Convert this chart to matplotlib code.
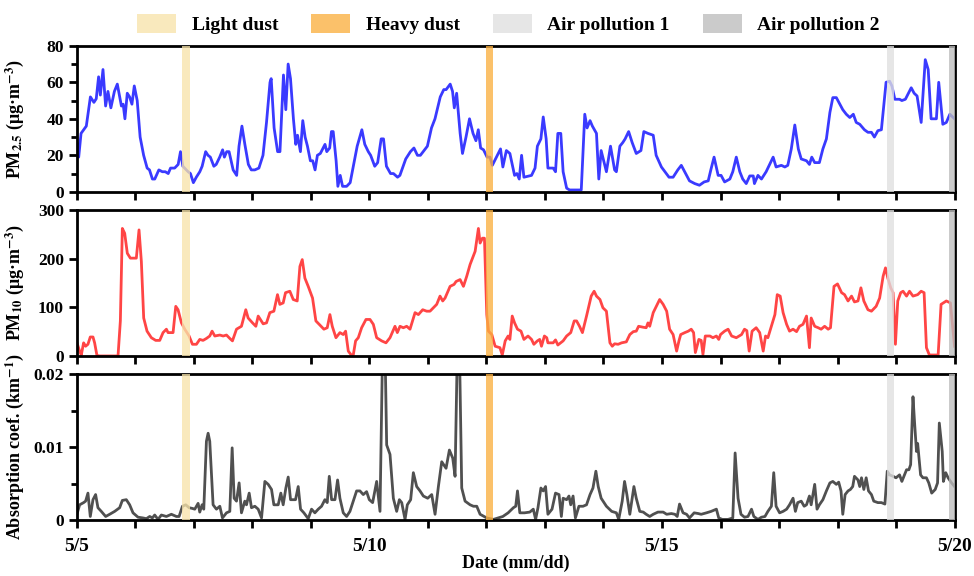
import numpy as np
import matplotlib.pyplot as plt
from matplotlib.patches import Patch

plt.rcParams['font.family'] = ['Liberation Serif', 'DejaVu Serif']
plt.rcParams['font.weight'] = 'bold'
plt.rcParams['mathtext.fontset'] = 'stix'

# time in days since 5/5 00:00
pm25_t = [0.00, 0.03, 0.07, 0.16, 0.23, 0.29, 0.33, 0.37, 0.40, 0.445, 0.49, 0.53, 0.58, 0.64, 0.69, 0.76,
          0.79, 0.82, 0.86, 0.90, 0.94, 0.98, 1.03, 1.08, 1.14, 1.20, 1.24, 1.29, 1.33, 1.40, 1.46, 1.51,
          1.56, 1.60, 1.67, 1.73, 1.77, 1.81, 1.90, 1.94, 1.99, 2.04, 2.10, 2.14, 2.20, 2.24, 2.28, 2.34,
          2.38, 2.44, 2.49, 2.52, 2.56, 2.60, 2.67, 2.73, 2.77, 2.82, 2.87, 2.93, 2.98, 3.04, 3.11, 3.18,
          3.24, 3.30, 3.32, 3.37, 3.43, 3.47, 3.53, 3.57, 3.61, 3.65, 3.70, 3.74, 3.77, 3.82, 3.86, 3.90,
          3.94, 3.99, 4.03, 4.07, 4.11, 4.16, 4.24, 4.27, 4.32, 4.35, 4.38, 4.43, 4.46, 4.50, 4.54, 4.61,
          4.67, 4.73, 4.79, 4.87, 4.92, 4.98, 5.02, 5.09, 5.14, 5.20, 5.24, 5.29, 5.36, 5.41, 5.48, 5.52,
          5.62, 5.70, 5.76, 5.82, 5.87, 5.99, 6.06, 6.12, 6.21, 6.27, 6.31, 6.38, 6.42, 6.45, 6.49, 6.55,
          6.59, 6.65, 6.71, 6.77, 6.82, 6.86, 6.90, 6.95, 7.01, 7.06, 7.10, 7.24, 7.28, 7.34, 7.40, 7.48,
          7.52, 7.56, 7.60, 7.64, 7.77, 7.83, 7.87, 7.93, 7.97, 8.02, 8.05, 8.14, 8.18, 8.22, 8.27, 8.31,
          8.37, 8.42, 8.62, 8.68, 8.72, 8.77, 8.81, 8.88, 8.92, 8.96, 9.05, 9.12, 9.19, 9.22, 9.28, 9.33,
          9.37, 9.43, 9.49, 9.56, 9.64, 9.69, 9.76, 9.85, 9.90, 9.99, 10.05, 10.12, 10.19, 10.27, 10.33, 10.42,
          10.47, 10.56, 10.64, 10.72, 10.79, 10.84, 10.89, 10.96, 11.01, 11.07, 11.16, 11.21, 11.27, 11.33, 11.38, 11.44,
          11.50, 11.56, 11.58, 11.64, 11.70, 11.78, 11.84, 11.90, 11.95, 12.04, 12.10, 12.15, 12.21, 12.27, 12.33, 12.38,
          12.47, 12.52, 12.56, 12.61, 12.69, 12.75, 12.81, 12.87, 12.92, 12.98, 13.04, 13.09, 13.15, 13.21, 13.27, 13.32,
          13.38, 13.46, 13.52, 13.58, 13.63, 13.69, 13.75, 13.79, 13.83, 13.89, 13.93, 13.98, 14.06, 14.10, 14.16, 14.26,
          14.31, 14.36, 14.43, 14.50, 14.55, 14.60, 14.69, 14.73, 14.80, 14.86, 14.92, 15.00]
pm25_v = [28, 19, 32, 36, 52, 49, 51, 63, 53, 67, 47, 55, 46, 55, 59, 47,
          48, 40, 54, 52, 48, 58, 50, 30, 20, 13, 12, 7, 7, 12, 11, 11,
          10, 13, 13, 15, 22, 14, 11, 10, 5, 8, 11, 14, 22, 20, 19, 14,
          15, 19, 23, 19, 22, 22, 12, 9, 25, 36, 26, 15, 12, 12, 13, 20,
          38, 60, 62, 35, 22, 22, 64, 45, 70, 62, 40, 26, 31, 22, 39, 30,
          25, 17, 17, 12, 20, 21, 26, 22, 24, 33, 33, 17, 3, 9, 3, 3,
          5, 15, 25, 34, 26, 22, 20, 14, 16, 29, 29, 14, 10, 10, 8, 9,
          18, 22, 24, 20, 20, 25, 35, 40, 52, 56, 56, 59, 55, 46, 54, 32,
          21, 30, 40, 32, 28, 34, 24, 23, 19, 19, 14.5, 23.5, 13.6, 22.6, 21, 9,
          10, 7, 20, 8, 9, 13, 25, 29, 41, 29, 13, 13, 11, 32, 32, 11,
          2, 1, 1, 42.5, 35, 39, 36, 32, 7, 22.6, 11, 25, 12, 11, 25, 27,
          29, 33, 27, 21, 22.6, 33, 32, 31, 20, 13.6, 11, 8, 8, 12, 14.5, 9,
          6, 4.5, 3.6, 5.4, 6, 12.7, 19, 9, 9, 5.4, 7, 11, 19, 11, 7, 4.5,
          8.7, 8.7, 4.5, 9, 7, 11, 15, 19, 13.6, 14.5, 13.6, 14.5, 23.5, 36.6, 23.5, 18,
          17, 15, 19, 16, 16, 23.5, 29, 43.5, 51.6, 51.6, 48, 45, 42.5, 40.7, 42.5, 38,
          37, 34, 32.6, 32.6, 30, 33.5, 34, 47, 60, 60.6, 58, 50.7, 50.7, 50, 50.7, 57,
          54, 52.5, 38, 72.4, 67, 40, 40, 60, 37, 38, 42.5, 40]

pm10_t = [0.00, 0.046, 0.074, 0.114, 0.148, 0.188, 0.228, 0.274, 0.302, 0.342, 0.388, 0.702, 0.742, 0.776, 0.816, 0.861,
          0.913, 1.015, 1.061, 1.101, 1.141, 1.198, 1.272, 1.346, 1.415, 1.472, 1.529, 1.557, 1.643, 1.689, 1.728, 1.786,
          1.843, 1.917, 1.974, 2.042, 2.099, 2.156, 2.213, 2.270, 2.310, 2.356, 2.442, 2.499, 2.556, 2.613, 2.658, 2.727,
          2.812, 2.886, 2.926, 3.001, 3.058, 3.098, 3.183, 3.240, 3.297, 3.366, 3.428, 3.468, 3.525, 3.565, 3.639, 3.697,
          3.765, 3.811, 3.851, 3.896, 3.953, 4.027, 4.084, 4.141, 4.221, 4.278, 4.324, 4.364, 4.427, 4.495, 4.552, 4.592,
          4.638, 4.695, 4.723, 4.763, 4.809, 4.866, 4.940, 5.009, 5.066, 5.123, 5.208, 5.282, 5.351, 5.436, 5.476, 5.522,
          5.579, 5.636, 5.693, 5.779, 5.836, 5.910, 5.978, 6.035, 6.092, 6.149, 6.206, 6.252, 6.292, 6.378, 6.446, 6.480,
          6.549, 6.606, 6.663, 6.720, 6.806, 6.862, 6.891, 6.931, 6.965, 7.005, 7.034, 7.091, 7.148, 7.23, 7.27, 7.32,
          7.37, 7.40, 7.44, 7.48, 7.53, 7.59, 7.64, 7.71, 7.77, 7.81, 7.87, 7.91, 7.94, 7.99, 8.03, 8.05,
          8.14, 8.18, 8.22, 8.31, 8.37, 8.44, 8.50, 8.54, 8.59, 8.64, 8.71, 8.79, 8.84, 8.88, 8.94, 8.99,
          9.05, 9.11, 9.15, 9.19, 9.25, 9.31, 9.39, 9.45, 9.51, 9.56, 9.60, 9.68, 9.73, 9.76, 9.79, 9.85,
          9.92, 9.96, 10.02, 10.08, 10.13, 10.19, 10.25, 10.29, 10.32, 10.39, 10.45, 10.50, 10.54, 10.57, 10.63, 10.67,
          10.70, 10.74, 10.82, 10.87, 10.93, 10.97, 11.00, 11.07, 11.13, 11.19, 11.27, 11.36, 11.41, 11.45, 11.49, 11.54,
          11.61, 11.67, 11.73, 11.77, 11.81, 11.87, 11.93, 11.97, 12.02, 12.07, 12.13, 12.18, 12.24, 12.30, 12.35, 12.41,
          12.47, 12.52, 12.55, 12.61, 12.67, 12.72, 12.78, 12.84, 12.88, 12.94, 13.00, 13.07, 13.12, 13.18, 13.24, 13.29,
          13.35, 13.40, 13.45, 13.52, 13.58, 13.66, 13.72, 13.78, 13.82, 13.86, 13.91, 13.95, 13.99, 14.03, 14.08, 14.12,
          14.18, 14.23, 14.29, 14.37, 14.43, 14.48, 14.52, 14.57, 14.72, 14.77, 14.86, 14.93, 15.00]
pm10_v = [27, 10, 2, 27, 20, 24, 39, 39, 27, 1, 0, 0, 72, 262, 252, 211,
          201, 201, 259, 194, 78, 51, 37.5, 32, 32, 48, 55, 48, 48, 102, 95, 68,
          55, 41, 24, 24, 34, 32, 36, 41, 51, 41, 43, 41, 43, 36, 31, 55,
          61, 95, 78, 68, 61, 82, 66, 68, 89, 92, 126, 106, 109, 130, 133, 116,
          113, 184, 198, 160, 143, 119, 72, 65, 55, 58, 85, 61, 37.5, 48, 44, 51,
          10, 1, 2, 31, 37.5, 58, 75, 75, 65, 37.5, 31, 27, 37.5, 61, 48, 61,
          58, 61, 55, 89, 85, 95, 92, 92, 99, 106, 123, 113, 119, 143, 147, 153,
          157, 143, 164, 188, 215, 262, 232, 242, 242, 85, 51, 44, 20, 17, 2, 31,
          41, 34, 82, 68, 55, 51, 34, 41, 34, 24, 31, 34, 20, 41, 37.5, 27,
          27, 33, 22.5, 31, 41, 48, 72, 72, 61, 48, 82, 123, 133, 123, 116, 99,
          92, 27, 20, 25, 24, 27, 29, 44, 50, 51, 61, 59, 58, 68, 61, 89,
          106, 116, 106, 92, 55, 44, 10, 31, 44, 48, 51, 55, 48, 7, 34, 32,
          3, 41, 41, 37.5, 41, 34, 44, 51, 55, 41, 37.5, 44, 55, 52, 10, 51,
          58, 48, 10, 41, 37.5, 61, 85, 126, 123, 89, 65, 51, 55, 50, 61, 65,
          82, 17, 78, 61, 58, 55, 61, 55, 58, 143, 148, 130, 126, 113, 123, 111,
          113, 140, 113, 95, 92, 102, 119, 164, 181, 160, 140, 130, 24, 113, 130, 133,
          123, 133, 123, 126, 133, 130, 17, 2, 2, 106, 113, 109, 20]

abs_t = [0.000, 0.046, 0.114, 0.148, 0.188, 0.228, 0.274, 0.319, 0.359, 0.416, 0.491, 0.559, 0.645, 0.730, 0.776, 0.844,
         0.901, 0.958, 1.044, 1.129, 1.187, 1.244, 1.289, 1.329, 1.386, 1.443, 1.529, 1.614, 1.700, 1.746, 1.803, 1.860,
         1.917, 1.974, 2.014, 2.071, 2.099, 2.139, 2.168, 2.213, 2.242, 2.270, 2.327, 2.384, 2.442, 2.487, 2.556, 2.613,
         2.653, 2.687, 2.727, 2.772, 2.812, 2.869, 2.898, 2.944, 2.983, 3.041, 3.098, 3.155, 3.212, 3.269, 3.326, 3.366,
         3.440, 3.485, 3.525, 3.571, 3.611, 3.651, 3.736, 3.782, 3.822, 3.879, 3.953, 4.010, 4.067, 4.124, 4.181, 4.238,
         4.278, 4.313, 4.353, 4.410, 4.455, 4.495, 4.552, 4.609, 4.666, 4.723, 4.780, 4.837, 4.894, 4.951, 4.997, 5.054,
         5.123, 5.180, 5.225, 5.265, 5.294, 5.351, 5.408, 5.465, 5.511, 5.551, 5.608, 5.647, 5.704, 5.750, 5.807, 5.864,
         5.921, 5.995, 6.064, 6.121, 6.178, 6.235, 6.309, 6.366, 6.423, 6.463, 6.503, 6.537, 6.577, 6.634, 6.720, 6.777,
         6.834, 6.891, 7.005, 7.119, 7.28, 7.37, 7.46, 7.50, 7.53, 7.57, 7.65, 7.74, 7.80, 7.84, 7.88, 7.93,
         7.97, 8.01, 8.05, 8.12, 8.18, 8.24, 8.28, 8.31, 8.37, 8.41, 8.44, 8.48, 8.52, 8.58, 8.65, 8.71,
         8.77, 8.82, 8.87, 8.91, 8.96, 9.05, 9.14, 9.22, 9.26, 9.32, 9.36, 9.40, 9.45, 9.49, 9.52, 9.56,
         9.62, 9.68, 9.73, 9.79, 9.85, 9.93, 10.02, 10.08, 10.16, 10.22, 10.26, 10.30, 10.36, 10.42, 10.47, 10.55,
         10.62, 10.67, 10.76, 10.84, 10.93, 10.97, 11.03, 11.13, 11.21, 11.25, 11.30, 11.35, 11.41, 11.47, 11.53, 11.57,
         11.64, 11.70, 11.76, 11.81, 11.87, 11.91, 11.95, 12.01, 12.07, 12.13, 12.18, 12.24, 12.28, 12.32, 12.38, 12.43,
         12.47, 12.52, 12.55, 12.61, 12.65, 12.69, 12.75, 12.81, 12.87, 12.92, 12.98, 13.02, 13.06, 13.09, 13.13, 13.18,
         13.22, 13.26, 13.29, 13.35, 13.38, 13.41, 13.45, 13.49, 13.53, 13.58, 13.62, 13.69, 13.75, 13.81, 13.85, 13.89,
         13.95, 14.00, 14.06, 14.10, 14.18, 14.22, 14.25, 14.29, 14.32, 14.35, 14.37, 14.42, 14.46, 14.52, 14.56, 14.61,
         14.67, 14.71, 14.74, 14.79, 14.81, 14.85, 14.89, 14.95, 15.00]
# absorption coefficient, 10^-3 km^-1
abs_v = [0.8, 2.1, 2.4, 2.6, 3.7, 0.5, 2.8, 3.5, 1.7, 1.2, 0.5, 0.8, 1.2, 1.7, 2.7, 2.8,
         2.1, 1.0, 0.4, 0.3, 0.2, 0.5, 0.3, 0.7, 0.1, 0.7, 0.5, 0.8, 0.5, 0.5, 1.9, 2.1,
         1.7, 1.6, 1.5, 2.3, 1.1, 2.1, 1.5, 10.8, 11.9, 10.8, 2.1, 1.5, 1.9, 0.3, 1.0, 1.2,
         9.9, 3.0, 2.6, 5.1, 1.0, 2.6, 2.1, 3.7, 1.7, 1.9, 1.5, 0.3, 5.3, 4.9, 4.2, 2.1,
         2.1, 3.7, 2.1, 4.4, 5.9, 2.8, 2.8, 4.6, 1.5, 1.0, 0.2, 1.5, 1.0, 1.5, 1.9, 2.8,
         2.4, 6.0, 2.8, 2.8, 5.5, 3.0, 1.0, 0.5, 1.2, 2.6, 4.0, 4.0, 3.5, 3.9, 2.8, 2.4,
         5.3, 1.2, 24, 24, 10.3, 9.0, 3.0, 1.2, 2.8, 2.4, 0.1, 2.1, 2.8, 6.5, 4.6, 4.0,
         3.3, 3.0, 3.5, 0.8, 4.6, 8.0, 7.1, 9.6, 8.5, 6.0, 24, 24, 4.4, 2.6, 2.1, 1.9,
         1.9, 0.8, 0.3, 0.1, 0.5, 1.0, 1.7, 1.9, 4.0, 1.0, 1.0, 1.1, 1.5, 0.1, 1.7, 4.4,
         4.0, 4.6, 0.8, 1.5, 3.7, 3.5, 0.5, 3.0, 2.8, 3.3, 2.1, 3.3, 0.3, 1.9, 1.9, 2.1,
         3.5, 4.4, 6.7, 4.6, 3.0, 1.9, 1.2, 1.0, 0.1, 2.6, 5.3, 3.5, 0.8, 3.0, 4.6, 3.0,
         1.2, 1.1, 0.8, 0.5, 0.8, 1.1, 1.1, 0.8, 0.9, 0.8, 0.5, 2.2, 1.0, 0.8, 0.3, 1.0,
         0.9, 0.8, 1.0, 1.2, 1.5, 0.3, 0.1, 0.1, 0.3, 9.2, 3.0, 0.8, 0.4, 0.5, 1.5, 0.5,
         0.1, 0.4, 0.5, 1.2, 1.9, 6.5, 1.9, 1.0, 1.2, 1.5, 2.1, 3.0, 1.2, 2.4, 2.6, 1.9,
         2.1, 3.3, 2.1, 4.9, 1.5, 2.1, 2.8, 4.0, 5.1, 5.3, 4.9, 5.2, 4.0, 0.8, 3.5, 4.0,
         4.2, 4.6, 6.0, 5.5, 4.6, 5.8, 4.2, 5.8, 4.0, 3.5, 2.6, 2.4, 2.4, 2.2, 6.7, 6.2,
         6.0, 5.8, 6.2, 5.3, 6.9, 6.9, 7.6, 16.9, 13.0, 9.4, 10.5, 6.2, 5.8, 5.8, 5.1, 3.7,
         4.2, 5.1, 13.3, 9.4, 5.3, 6.5, 5.8, 5.1, 4.6]

# event periods (days since 5/5)
event_names = ['Light dust', 'Heavy dust', 'Air pollution 1', 'Air pollution 2']
event_start = [1.80, 7.00, 13.84, 14.90]
event_end = [1.93, 7.11, 13.96, 15.00]
event_colors = ['#f8e4ab', '#fbb040', '#e0e0e0', '#bdbdbd']

day_labels = ['5/5', '5/10', '5/15', '5/20']

fig = plt.figure(figsize=(9.74, 5.76), dpi=100)
ax1 = fig.add_axes([0.079, 0.667, 0.901, 0.2535])
ax2 = fig.add_axes([0.079, 0.382, 0.901, 0.2535])
ax3 = fig.add_axes([0.079, 0.097, 0.901, 0.2535])

ax1.plot(pm25_t, pm25_v, color='#3a3aff', lw=2, zorder=2)
ax2.plot(pm10_t, pm10_v, color='#ff4545', lw=2, zorder=2)
ax3.plot(abs_t, np.array(abs_v) * 1e-3, color='#505050', lw=2, zorder=2)

for ax in (ax1, ax2, ax3):
    for s, e, c in zip(event_start, event_end, event_colors):
        ax.axvspan(s, e, color=c, alpha=0.78, lw=0, zorder=3)
    ax.set_xlim(0, 15)
    ax.set_xticks(np.arange(0, 16, 1))
    ax.tick_params(axis='both', which='major', direction='out', length=6, width=2, labelsize=12.5)
    ax.tick_params(axis='y', which='minor', direction='out', length=4, width=2)
    for sp in ax.spines.values():
        sp.set_linewidth(2)
    ax.yaxis.set_label_coords(-0.058, 0.5)

for ax in (ax1, ax2):
    ax.tick_params(axis='x', labelbottom=False)

ax1.set_ylim(0, 80)
ax1.set_yticks([0, 20, 40, 60, 80])
ax1.set_yticks([10, 30, 50, 70], minor=True)
ax1.set_ylabel(r'PM$_{\mathbf{2.5}}$ (μg·m$^{\mathbf{-3}}$)', fontsize=13, fontweight='bold')

ax2.set_ylim(0, 300)
ax2.set_yticks([0, 100, 200, 300])
ax2.set_ylabel(r'PM$_{\mathbf{10}}$ (μg·m$^{\mathbf{-3}}$)', fontsize=13, fontweight='bold')

ax3.set_ylim(0, 0.02)
ax3.set_yticks([0, 0.01, 0.02])
ax3.set_yticklabels(['0', '0.01', '0.02'])
ax3.set_yticks([0.005, 0.015], minor=True)
ax3.set_ylabel(r'Absorption coef. (km$^{\mathbf{-1}}$)', fontsize=13, fontweight='bold')
labels = ['' for _ in range(16)]
for i, lab in zip([0, 5, 10, 15], day_labels):
    labels[i] = lab
ax3.set_xticklabels(labels)
ax3.tick_params(axis='x', labelsize=14, pad=7)
ax3.set_xlabel('Date (mm/dd)', fontsize=13, fontweight='bold', labelpad=0)

handles = [Patch(facecolor=c, edgecolor='none', alpha=0.78) for c in event_colors]
fig.legend(handles, event_names, loc='center', bbox_to_anchor=(0.522, 0.958), ncol=4, frameon=False,
           handlelength=2.0, handleheight=1.1, columnspacing=1.7, handletextpad=0.8,
           prop={'weight': 'bold', 'size': 14})

fig.savefig('out.png', dpi=100)
